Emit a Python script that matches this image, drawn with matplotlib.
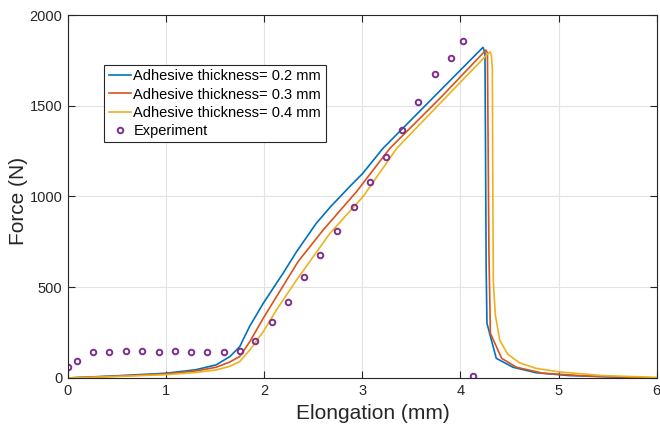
import numpy as np
import matplotlib.pyplot as plt

plt.rcParams['font.family'] = ['Liberation Sans', 'DejaVu Sans']

# 1. Données
# Epaisseur de colle 0.2 mm
x_02 = [0, 0.5, 1.0, 1.3, 1.51, 1.65, 1.75, 1.85, 1.99, 2.125, 2.19, 2.33, 2.53, 2.67,
        2.87, 3.0, 3.21, 3.7, 4.23, 4.25, 4.262, 4.27, 4.365, 4.535, 4.77, 5.11, 5.62, 6.0]
f_02 = [0, 12, 26, 45, 72, 118, 172, 283, 411, 522, 575, 696, 852, 940,
        1054, 1125, 1265, 1533, 1822, 1790, 600, 301, 108, 59, 29, 13, 4, 0]

# Epaisseur de colle 0.3 mm
x_03 = [0, 0.5, 1.0, 1.3, 1.51, 1.65, 1.75, 1.853, 1.99, 2.19, 2.345, 2.60, 2.94, 3.28,
        3.8, 4.26, 4.275, 4.29, 4.305, 4.42, 4.57, 4.84, 5.28, 6.0]
f_03 = [0, 10, 22, 38, 59, 88, 118, 200, 329, 505, 641, 815, 1026, 1265,
        1546, 1807, 1790, 700, 246, 108, 59, 26, 11, 0]

# Epaisseur de colle 0.4 mm
x_04 = [0, 0.5, 1.0, 1.3, 1.51, 1.65, 1.75, 1.853, 1.99, 2.125, 2.33, 2.67, 3.007, 3.35,
        3.8, 4.29, 4.30, 4.315, 4.325, 4.33, 4.335, 4.355, 4.40, 4.48, 4.60, 4.77,
        5.01, 5.45, 6.0]
f_04 = [0, 8, 18, 30, 44, 64, 90, 154, 255, 375, 540, 797, 999, 1265,
        1518, 1792, 1797, 1780, 1700, 1000, 530, 350, 209, 132, 84, 53,
        33, 13, 3]

# Points expérimentaux
x_exp = [0, 0.088, 0.258, 0.42, 0.587, 0.754, 0.923, 1.09, 1.25, 1.42, 1.59, 1.75, 1.91,
         2.08, 2.24, 2.41, 2.57, 2.74, 2.91, 3.075, 3.24, 3.40, 3.57, 3.74, 3.90, 4.03, 4.13]
f_exp = [59, 95, 145, 143, 146, 146, 144, 146, 145, 145, 144, 147, 206,
         307, 419, 555, 679, 812, 942, 1082, 1218, 1366, 1519, 1675, 1765, 1859, 9]

# 2. Tracé
fig = plt.figure(figsize=(6.6, 4.29), dpi=100)
ax = fig.add_axes([0.103, 0.119, 0.892, 0.846])

ax.plot(x_02, f_02, color='#0072BD', lw=1.2, label='Adhesive thickness= 0.2 mm')
ax.plot(x_03, f_03, color='#D95319', lw=1.2, label='Adhesive thickness= 0.3 mm')
ax.plot(x_04, f_04, color='#EDB120', lw=1.2, label='Adhesive thickness= 0.4 mm')
ax.plot(x_exp, f_exp, 'o', color='#7E2F8E', mfc='none', ms=4, mew=1.4,
        label='Experiment')

ax.set_xlim(0, 6)
ax.set_ylim(0, 2000)
ax.set_xticks(np.arange(0, 7, 1))
ax.set_yticks(np.arange(0, 2001, 500))

ax.set_xlabel('Elongation (mm)', fontsize=15, color='#262626')
ax.set_ylabel('Force (N)', fontsize=15, color='#262626')
ax.xaxis.set_label_coords(0.518, -0.072)
ax.yaxis.set_label_coords(-0.068, 0.488)

ax.grid(True, color='#e3e3e3', lw=0.8)
ax.set_axisbelow(True)
ax.tick_params(direction='in', top=True, right=True, length=5, width=0.8,
               labelsize=10.5, colors='#262626', pad=4)
for s in ax.spines.values():
    s.set_color('#262626')
    s.set_linewidth(0.8)

leg = ax.legend(loc='upper left', bbox_to_anchor=(0.0616, 0.862), borderaxespad=0,
                fontsize=10.5, fancybox=False, edgecolor='#262626', framealpha=1,
                handlelength=1.55, handletextpad=0.15, labelspacing=0.28,
                borderpad=0.3)
leg.get_frame().set_linewidth(0.8)

plt.savefig('out.png', dpi=100)
